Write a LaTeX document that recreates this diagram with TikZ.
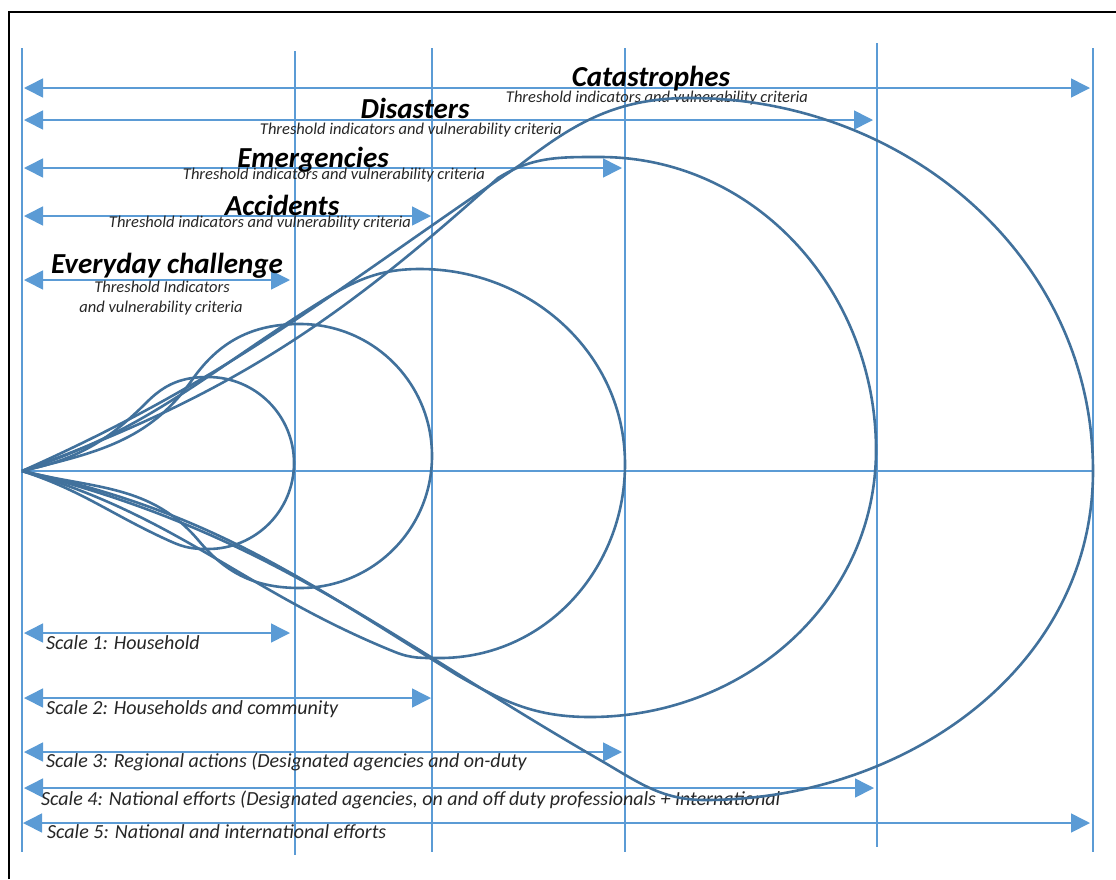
\documentclass[tikz,border=0pt]{standalone}
\usepackage{fontspec}
\setmainfont{Carlito}
\usetikzlibrary{arrows.meta}
\definecolor{lblue}{HTML}{5B9BD5}
\definecolor{dblue}{HTML}{41719C}
\definecolor{txtgray}{HTML}{262626}
\newcommand\ttlfont{\fontsize{29}{34}\selectfont\bfseries\itshape}
\newcommand\thrfont{\fontsize{16.5}{20}\selectfont\itshape}
\newcommand\sclfont{\fontsize{20}{24}\selectfont\itshape}
\tikzset{
  guide/.style={draw=lblue, line width=1.6pt},
  dbl/.style={draw=lblue, line width=1.6pt,
    {Triangle[length=19pt,width=19pt]}-{Triangle[length=19pt,width=19pt]}},
  drop/.style={draw=dblue, line width=2.6pt, line join=round},
  ttl/.style={font=\ttlfont, text=black, anchor=base, inner sep=0pt},
  thr/.style={font=\thrfont, text=txtgray, anchor=base, inner sep=0pt},
  scl/.style={font=\sclfont, text=txtgray, anchor=base west, inner sep=0pt},
}
\begin{document}
\begin{tikzpicture}[x=1pt,y=1pt]
\useasboundingbox (0,0) rectangle (1116,-879);
% frame
\draw[line width=1.5pt] (9,-879) -- (9,-12) -- (1116,-12);
% vertical guides
\coordinate (v1t) at (22,-48);   \coordinate (v1b) at (22,-852);
\coordinate (v2t) at (295,-51);  \coordinate (v2b) at (295,-855);
\coordinate (v3t) at (432,-48);  \coordinate (v3b) at (432,-852);
\coordinate (v4t) at (625,-48);  \coordinate (v4b) at (625,-852);
\coordinate (v5t) at (877,-43);  \coordinate (v5b) at (877,-847);
\coordinate (v6t) at (1093,-48); \coordinate (v6b) at (1093,-852);
\draw[guide] (v1t) -- (v1b);
\draw[guide] (v2t) -- (v2b);
\draw[guide] (v3t) -- (v3b);
\draw[guide] (v4t) -- (v4b);
\draw[guide] (v5t) -- (v5b);
\draw[guide] (v6t) -- (v6b);
% axis
\coordinate (A) at (22,-471);
\coordinate (axR) at (1093,-471);
\draw[guide] (A) -- (axR);
% top arrows
\coordinate (cL) at (24,-88);  \coordinate (cR) at (1090,-88);
\coordinate (dL) at (24,-120); \coordinate (dR) at (873,-120);
\coordinate (eL) at (24,-168); \coordinate (eR) at (622,-168);
\coordinate (aL) at (24,-216); \coordinate (aR) at (431,-216);
\coordinate (yL) at (24,-280); \coordinate (yR) at (290,-280);
\draw[dbl] (cL) -- (cR);
\draw[dbl] (dL) -- (dR);
\draw[dbl] (eL) -- (eR);
\draw[dbl] (aL) -- (aR);
\draw[dbl] (yL) -- (yR);
% bottom arrows
\coordinate (s1L) at (24,-633); \coordinate (s1R) at (290,-633);
\coordinate (s2L) at (24,-698); \coordinate (s2R) at (431,-698);
\coordinate (s3L) at (24,-752); \coordinate (s3R) at (622,-752);
\coordinate (s4L) at (24,-788); \coordinate (s4R) at (874,-788);
\coordinate (s5L) at (23,-823); \coordinate (s5R) at (1090,-823);
\draw[dbl] (s1L) -- (s1R);
\draw[dbl] (s2L) -- (s2R);
\draw[dbl] (s3L) -- (s3R);
\draw[dbl] (s4L) -- (s4R);
\draw[dbl] (s5L) -- (s5R);
% titles
\node[ttl] (tcat) at (651,-86) {Catastrophes};
\node[thr] (hcat) at (657,-102) {Threshold indicators and vulnerability criteria};
\node[ttl] (tdis) at (415,-118) {Disasters};
\node[thr] (hdis) at (411,-134) {Threshold indicators and vulnerability criteria};
\node[ttl] (teme) at (313,-167) {Emergencies};
\node[thr] (heme) at (334,-179) {Threshold indicators and vulnerability criteria};
\node[ttl] (tacc) at (282,-215) {Accidents};
\node[thr] (hacc) at (260,-227) {Threshold indicators and vulnerability criteria};
\node[ttl] (tevd) at (167,-273) {Everyday challenge};
\node[thr] (hevd1) at (162,-292) {Threshold Indicators};
\node[thr] (hevd2) at (161,-312) {and vulnerability criteria};
% scale texts
\node[scl] (sc1) at (46,-649) {Scale 1: Household};
\node[scl] (sc2) at (46,-714) {Scale 2: Households and community};
\node[scl] (sc3) at (46,-767) {Scale 3: Regional actions (Designated agencies and on-duty};
\node[scl] (sc4) at (41,-805) {Scale 4: National efforts (Designated agencies, on and off duty professionals + International};
\node[scl] (sc5) at (47,-838) {Scale 5: National and international efforts};
% teardrops
\draw[drop] (A) to[out=12,in=225] (147,-402) to[out=45,in=180] (208,-377)
  to[out=0,in=90] (294,-463) to[out=-90,in=0] (208,-549)
  to[out=180,in=-24] (172,-542) to[out=156,in=-18] (A);
\draw[drop] (A) to[out=14,in=235] (192,-380) to[out=55,in=180] (300,-324)
  to[out=0,in=90] (432,-456) to[out=-90,in=0] (300,-588)
  to[out=180,in=-50] (199,-541) to[out=130,in=-14] (A);
\draw[drop] (A) to[out=18,in=212] (320,-302) to[out=32,in=180] (420,-269)
  to[out=0,in=90] (625,-464) to[out=-90,in=0] (440,-658)
  to[out=180,in=-22] (395,-652) to[out=158,in=-16] (A);
\draw[drop] (A) to[out=20,in=222] (498,-178) to[out=32,in=180] (600,-157)
  to[out=0,in=90] (876,-450) to[out=-90,in=0] (590,-717)
  to[out=180,in=-30] (457,-675) to[out=148,in=-12] (A);
\draw[drop] (A) to[out=24,in=214] (520,-165) to[out=38,in=180] (690,-98)
  to[out=0,in=90] (1093,-471) to[out=-90,in=0] (705,-800)
  to[out=180,in=-30] (600,-760) to[out=150,in=-14] (A);
\end{tikzpicture}
\end{document}
